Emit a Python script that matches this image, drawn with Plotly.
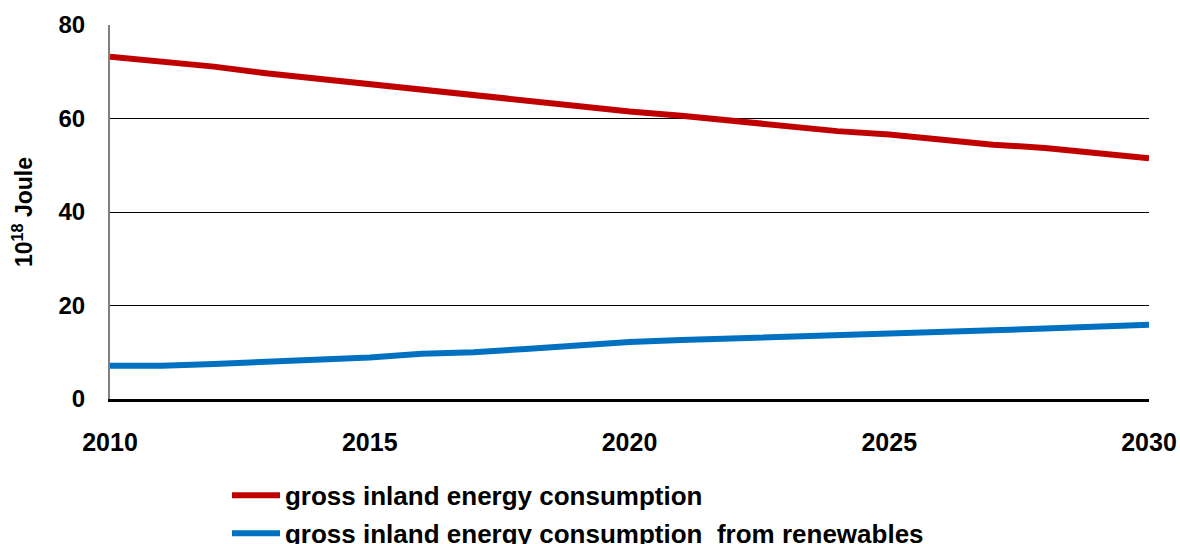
import plotly.graph_objects as go

years = list(range(2010, 2031))
gross = [73.2, 72.2, 71.1, 69.7, 68.5, 67.4, 66.3, 64.9, 63.8, 62.7, 61.5,
         60.6, 59.5, 58.4, 57.3, 56.6, 55.5, 54.4, 53.7, 52.6, 51.5]
renew = [7.1, 7.1, 7.5, 7.9, 8.6, 8.9, 9.7, 10.0, 10.7, 11.5, 12.2,
         12.6, 12.9, 13.3, 13.6, 14.0, 14.4, 14.7, 15.1, 15.5, 15.9]
names = ["gross inland energy consumption",
         "gross inland energy consumption  from renewables"]
x_ticks = [2010, 2015, 2020, 2025, 2030]
y_ticks = [0, 20, 40, 60, 80]

font_family = "Liberation Sans, Arial, sans-serif"

fig = go.Figure()
fig.add_trace(go.Scatter(x=years, y=gross, mode="lines", name=names[0], legendgroup="a",
                         line=dict(color="#C00000", width=6)))
fig.add_trace(go.Scatter(x=years, y=renew, mode="lines", name=names[1], legendgroup="b",
                         line=dict(color="#0070C0", width=6)))

fig.update_layout(
    width=1180, height=544,
    margin=dict(l=110, r=31, t=25, b=145, autoexpand=False),
    plot_bgcolor="white", paper_bgcolor="white",
    font=dict(family=font_family, color="black"),
    showlegend=True,
    legend=dict(x=0.1126, y=-0.195, xanchor="left", yanchor="top",
                font=dict(size=26, family=font_family, color="black", weight="bold"),
                bgcolor="rgba(0,0,0,0)", tracegroupgap=1, itemwidth=48),
    xaxis=dict(range=[2010, 2030], tickvals=x_ticks, ticktext=[str(v) for v in x_ticks],
               showgrid=False, zeroline=False,
               showline=True, linecolor="black", linewidth=2.5,
               ticks="", ticklabelstandoff=19,
               tickfont=dict(size=25, family=font_family, color="black", weight="bold")),
    yaxis=dict(range=[0, 80], tickvals=y_ticks,
               showgrid=True, gridcolor="black", gridwidth=1.2,
               zeroline=False, showline=True, linecolor="#808080", linewidth=2,
               ticks="", ticklabelstandoff=18,
               tickfont=dict(size=24, family=font_family, color="black", weight="bold")),
)
fig.update_yaxes(title=dict(text="10<sup>18</sup> Joule", standoff=19,
                            font=dict(size=23, family=font_family, color="black", weight="bold")))

fig.write_html("out.html", config={"displayModeBar": False},
               post_script="document.body.style.margin='0';document.body.style.overflow='hidden';")
